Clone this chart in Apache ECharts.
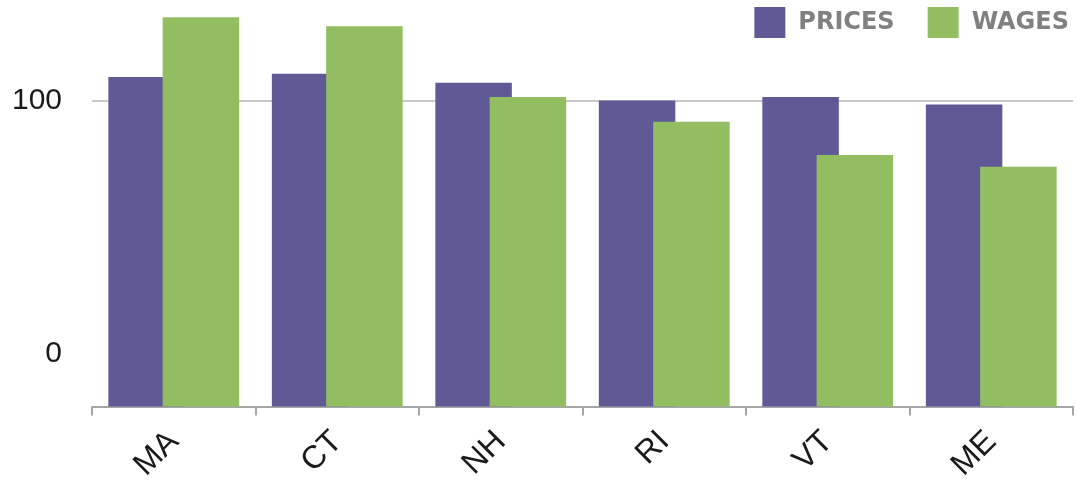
<!DOCTYPE html>
<html>
<head>
<meta charset="utf-8">
<script src="https://cdn.jsdelivr.net/npm/echarts@6/dist/echarts.min.js"></script>
<style>
  html, body { margin: 0; padding: 0; background: #fff; }
  #chart { width: 1079px; height: 484px; }
</style>
</head>
<body>
<div id="chart"></div>
<script>
// values
var states = ['MA', 'CT', 'NH', 'RI', 'VT', 'ME'];
var prices = [109.5, 110.8, 107.2, 100.2, 101.6, 98.6];
var wages = [133.2, 129.6, 101.6, 91.8, 78.6, 74.0];
var yLabelValues = [0, 100];
var gridValues = [100];

var chart = echarts.init(document.getElementById('chart'));

var option = {
    animation: false,
    textStyle: { fontFamily: 'Liberation Sans, Arial, sans-serif' },
    legend: {
        data: ['PRICES', 'WAGES'],
        right: 5,
        top: 2,
        itemWidth: 31,
        itemHeight: 31,
        itemGap: 33,
        icon: 'rect',
        textStyle: {
            fontFamily: 'DejaVu Sans',
            fontWeight: 'bold',
            fontSize: 24,
            color: '#808080',
            padding: [0, 0, 0, 8]
        }
    },
    grid: {
        left: 92,
        right: 6,
        top: 0,
        bottom: 75,
        containLabel: false
    },
    xAxis: {
        type: 'category',
        data: states,
        axisLine: { onZero: false, lineStyle: { color: '#a6a6a6', width: 2 } },
        axisTick: { show: true, length: 9, lineStyle: { color: '#a6a6a6', width: 2 } },
        axisLabel: {
            rotate: 45,
            margin: 30,
            fontSize: 32,
            color: '#1a1a1a'
        }
    },
    yAxis: {
        type: 'value',
        min: -21,
        max: 140,
        startValue: -21,
        axisLine: { show: false },
        axisTick: { show: false, customValues: gridValues },
        axisLabel: {
            customValues: yLabelValues,
            fontSize: 30,
            color: '#1a1a1a',
            margin: 30
        },
        splitLine: {
            show: true,
            lineStyle: { color: '#c8c8c8', width: 2 }
        }
    },
    series: [
        {
            name: 'PRICES',
            type: 'bar',
            data: prices,
            barGap: '-29%',
            barCategoryGap: '20%',
            itemStyle: { color: '#5f5a96' }
        },
        {
            name: 'WAGES',
            type: 'bar',
            data: wages,
            itemStyle: { color: '#92be61' }
        }
    ]
};

chart.setOption(option);
</script>
</body>
</html>
